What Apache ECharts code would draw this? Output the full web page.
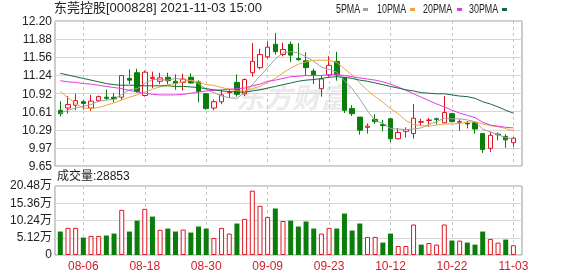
<!DOCTYPE html>
<html><head><meta charset="utf-8">
<script src="https://cdn.jsdelivr.net/npm/echarts@6/dist/echarts.min.js"></script>
<style>html,body{margin:0;padding:0;background:#fff}body{position:relative}#c{width:578px;height:276px}
#plabels{position:absolute;left:0;top:0;width:578px;height:276px;pointer-events:none;z-index:10}
#plabels div{position:absolute;height:14px;line-height:14px;font:12px 'Liberation Sans',Arial,sans-serif;color:#222;white-space:nowrap;text-align:right}</style>
</head><body><div id="c"></div><div id="plabels"></div>
<script>
const dates = ['08-03','08-04','08-05','08-06','08-09','08-10','08-11','08-12','08-13','08-16','08-17','08-18','08-19','08-20','08-23','08-24','08-25','08-26','08-27','08-30','08-31','09-01','09-02','09-03','09-06','09-07','09-08','09-09','09-10','09-13','09-14','09-15','09-16','09-17','09-22','09-23','09-24','09-27','09-28','09-29','09-30','10-08','10-11','10-12','10-13','10-14','10-15','10-18','10-19','10-20','10-21','10-22','10-25','10-26','10-27','10-28','10-29','11-01','11-02','11-03'];
const openP  = [10.63,10.67,10.72,10.78,10.67,10.80,10.86,10.86,10.86,11.19,11.29,10.89,11.19,11.14,11.21,11.14,11.12,11.21,11.13,10.92,10.67,10.78,10.94,11.12,10.92,11.29,11.38,11.57,11.79,11.61,11.79,11.54,11.50,11.32,11.01,11.25,11.49,11.20,10.66,10.51,10.33,10.47,10.38,10.48,10.13,10.26,10.22,10.42,10.45,10.48,10.41,10.57,10.42,10.40,10.41,10.22,9.96,10.21,10.17,10.06];
const closeP = [10.57,10.73,10.80,10.75,10.79,10.87,10.84,10.83,11.24,11.16,10.96,11.30,11.21,11.20,11.15,11.10,11.18,11.11,10.96,10.66,10.78,10.90,10.95,10.91,11.17,11.49,11.61,11.74,11.66,11.70,11.60,11.52,11.38,11.25,11.18,11.42,11.25,10.63,10.57,10.28,10.35,10.43,10.36,10.13,10.24,10.29,10.49,10.43,10.46,10.47,10.59,10.43,10.43,10.39,10.30,9.94,10.19,10.20,10.11,10.14];
const lowP   = [10.52,10.57,10.63,10.64,10.62,10.78,10.81,10.77,10.81,11.09,10.94,10.87,11.02,11.09,11.09,10.99,10.98,11.10,10.77,10.64,10.63,10.74,10.85,10.87,10.88,11.22,11.35,11.54,11.61,11.58,11.48,11.50,11.25,11.09,10.87,11.22,11.15,10.58,10.53,10.20,10.22,10.39,10.26,10.07,10.12,10.15,10.13,10.35,10.35,10.38,10.40,10.42,10.27,10.31,10.22,9.88,9.90,10.10,9.97,9.99];
const highP  = [10.79,10.88,10.92,10.81,10.90,10.89,10.99,10.93,11.25,11.35,11.36,11.33,11.31,11.29,11.29,11.26,11.27,11.28,11.16,10.93,10.82,10.99,11.01,11.26,11.19,11.81,11.71,11.84,11.99,11.82,11.84,11.81,11.65,11.36,11.25,11.58,11.66,11.21,10.72,10.51,10.40,10.56,10.46,10.49,10.32,10.33,10.74,10.48,10.50,10.50,10.88,10.58,10.47,10.44,10.43,10.23,10.25,10.24,10.21,10.16];
const ma5  = [10.58,10.63,10.67,10.70,10.73,10.79,10.81,10.82,10.91,10.99,11.01,11.10,11.17,11.17,11.16,11.19,11.17,11.15,11.10,11.00,10.94,10.88,10.85,10.84,10.94,11.08,11.23,11.38,11.53,11.64,11.66,11.64,11.57,11.49,11.39,11.35,11.30,11.15,11.01,10.83,10.62,10.45,10.40,10.31,10.30,10.29,10.30,10.32,10.38,10.43,10.49,10.48,10.48,10.46,10.43,10.30,10.25,10.20,10.15,10.12];
const ma10 = [10.96,10.85,10.75,10.67,10.66,10.68,10.72,10.76,10.81,10.86,10.90,10.95,11.00,11.04,11.08,11.10,11.13,11.16,11.13,11.08,11.07,11.03,11.00,10.97,10.97,11.01,11.05,11.12,11.19,11.29,11.37,11.44,11.48,11.51,11.51,11.51,11.47,11.36,11.25,11.11,10.98,10.87,10.77,10.66,10.57,10.45,10.38,10.36,10.35,10.37,10.39,10.39,10.40,10.42,10.43,10.39,10.36,10.34,10.31,10.27];
const ma20 = [11.15,11.13,11.12,11.10,11.09,11.07,11.05,11.03,11.01,10.98,10.95,10.93,10.91,10.90,10.90,10.90,10.91,10.93,10.95,10.97,10.98,10.99,11.00,11.01,11.02,11.06,11.09,11.14,11.16,11.19,11.22,11.23,11.24,11.24,11.24,11.26,11.26,11.24,11.22,11.20,11.18,11.16,11.13,11.09,11.04,10.98,10.92,10.86,10.80,10.74,10.69,10.63,10.58,10.54,10.50,10.42,10.37,10.35,10.33,10.32];
const ma30 = [11.28,11.25,11.22,11.19,11.16,11.13,11.10,11.08,11.07,11.07,11.07,11.06,11.06,11.06,11.06,11.05,11.05,11.04,11.03,11.01,10.99,10.97,10.96,10.95,10.95,10.97,10.99,11.02,11.05,11.08,11.11,11.14,11.16,11.17,11.19,11.21,11.22,11.21,11.19,11.16,11.14,11.11,11.08,11.05,11.02,10.99,10.97,10.94,10.93,10.92,10.92,10.90,10.88,10.87,10.84,10.78,10.74,10.69,10.63,10.58];
const volumes = [69600,80500,80500,51700,56700,56700,57700,63600,134000,69600,102000,137000,114000,74600,78500,69600,75500,66600,84500,78500,50700,80500,63600,93400,107000,191000,146000,113000,138000,101000,102000,84500,99400,78500,63600,80500,78500,123000,72600,93400,53700,53700,36800,63600,26800,26800,90500,30800,35800,30800,90500,42800,42800,36800,30800,69600,47700,36800,45700,28853];
const volUp = [0,1,1,0,1,1,0,0,1,0,0,1,0,1,0,0,1,0,0,0,1,1,1,0,1,1,1,1,0,1,0,0,0,0,1,1,0,0,0,0,1,1,0,0,1,1,1,0,1,1,1,0,1,0,0,0,1,1,0,1];
const priceTicks = ['9.65','9.97','10.29','10.61','10.92','11.24','11.56','11.88','12.20'];
const volTicks = ['0','5.12万','10.24万','15.36万','20.48万'];
const dateTicks = ['08-06','08-18','08-30','09-09','09-23','10-12','10-22','11-03'];
const maNames = ['5PMA','10PMA','20PMA','30PMA'];
const titleText = '东莞控股[000828] 2021-11-03 15:00';
const priceMin = 9.65, priceMax = 12.20, volMax = 204800;

const RED = '#e0141e', GREEN = '#0a7d0a';
const maColors = ['#a0a0a0', '#f0a536', '#e23be2', '#16693a'];
const LF = "'Liberation Sans', Arial, sans-serif";
const CF = "'Liberation Sans', 'Noto Sans CJK SC', sans-serif";
const legendX = [336, 377, 423, 469];
const legendWidths = [27, 33, 34, 33];

// layout
const MAIN_TOP = 21, MAIN_H = 145, VOL_TOP = 186, VOL_H = 69;
const FRAME_L = 55, FRAME_W = 467, DATA_L = 60.3, DATA_W = 453.1;
const nP = priceTicks.length - 1;
const nV = volTicks.length - 1, stepV = VOL_H / nV;

const chart = echarts.init(document.getElementById('c'), null, {renderer: 'canvas'});
const tickShow = (i, v) => dateTicks.indexOf(v !== undefined ? v : dates[i]) >= 0;
const vsplit = {show: true, interval: tickShow, lineStyle: {color: '#c4c4c4', type: [3, 3], width: 1}};

const legendGraphics = [];
maNames.forEach((n, k) => {
  legendGraphics.push({type: 'text', x: legendX[k], y: 10, scaleX: 0.74, z: 10,
    style: {text: n, font: "12px 'Liberation Sans', Arial", fill: '#222', textVerticalAlign: 'middle', verticalAlign: 'middle'}});
  legendGraphics.push({type: 'rect', z: 10, shape: {x: legendX[k] + legendWidths[k], y: 8, width: 5, height: 3}, style: {fill: maColors[k]}});
});

const labelAxis = (grid, ticks, font) => ({gridIndex: grid, type: 'value', min: 0, max: ticks.length, interval: 1,
  axisLine: {show: false}, axisTick: {show: false}, splitLine: {show: false},
  axisLabel: {formatter: v => (ticks[v] !== undefined ? ticks[v] : ''), color: '#222', fontSize: 12, margin: 3, fontFamily: font, showMaxLabel: true, showMinLabel: true}});
const frameAxis = (grid, n) => ({gridIndex: grid, type: 'value', min: 0, max: n, interval: 1,
  axisLine: {show: false}, axisTick: {show: false}, axisLabel: {show: false},
  splitLine: {lineStyle: {color: '#d6d6d6', width: 1}}});

const option = {
  animation: false,
  backgroundColor: '#fff',
  title: [
    {text: titleText, left: 54, top: 2, padding: 0, textStyle: {fontSize: 13, fontWeight: 'normal', color: '#222', fontFamily: CF}},
    {text: '成交量:' + volumes[volumes.length - 1], left: 57, top: 171, padding: 0, textStyle: {fontSize: 12, fontWeight: 'normal', color: '#222', fontFamily: CF}}
  ],
  graphic: [
    {type: 'text', left: 236, top: 83, z: 0, style: {text: '东方财富', font: "italic bold 28px 'Noto Sans CJK SC'", fill: '#ebebeb'}}
  ].concat(legendGraphics),
  grid: [
    {left: FRAME_L, top: MAIN_TOP, width: FRAME_W, height: MAIN_H, show: true, borderColor: '#9a9a9a', borderWidth: 1, backgroundColor: 'transparent'},
    {left: DATA_L, top: MAIN_TOP, width: DATA_W, height: MAIN_H},
    {left: FRAME_L, top: VOL_TOP, width: FRAME_W, height: VOL_H, show: true, borderColor: '#9a9a9a', borderWidth: 1, backgroundColor: 'transparent'},
    {left: DATA_L, top: VOL_TOP, width: DATA_W, height: VOL_H},
    {left: FRAME_L, top: VOL_TOP - stepV, width: FRAME_W, height: VOL_H + stepV}
  ],
  xAxis: [
    {gridIndex: 0, type: 'value', min: 0, max: 1, show: false},
    {gridIndex: 1, type: 'category', data: dates, boundaryGap: false, axisLine: {show: false}, axisTick: {show: false}, axisLabel: {show: false}, splitLine: vsplit},
    {gridIndex: 2, type: 'value', min: 0, max: 1, show: false},
    {gridIndex: 3, type: 'category', data: dates, boundaryGap: false, axisLine: {show: false}, axisTick: {show: false},
      axisLabel: {interval: tickShow, color: '#d0202a', fontSize: 12, margin: 6, fontFamily: LF}, splitLine: vsplit},
    {gridIndex: 4, type: 'value', min: 0, max: 1, show: false}
  ],
  yAxis: [
    frameAxis(0, nP),
    {gridIndex: 1, type: 'value', min: priceMin, max: priceMax, show: false},
    frameAxis(2, nV),
    {gridIndex: 3, type: 'value', min: 0, max: volMax, show: false},
    labelAxis(4, volTicks, CF)
  ],
  series: [
    {type: 'candlestick', xAxisIndex: 1, yAxisIndex: 1, barWidth: 5, clip: false, z: 3,
      data: dates.map((d, i) => [openP[i], closeP[i], lowP[i], highP[i]]),
      itemStyle: {color: '#ffffff', color0: GREEN, borderColor: RED, borderColor0: GREEN, borderWidth: 1}},
    ...[ma5, ma10, ma20, ma30].map((arr, k) => ({
      type: 'line', name: maNames[k], xAxisIndex: 1, yAxisIndex: 1, data: arr, color: maColors[k],
      symbol: 'none', showSymbol: false, z: 4, clip: false, lineStyle: {width: 1, color: maColors[k]}
    })),
    {type: 'bar', xAxisIndex: 3, yAxisIndex: 3, barWidth: 5, clip: false,
      data: volumes.map((v, i) => ({value: v, itemStyle: volUp[i] ? {color: '#ffffff', borderColor: RED, borderWidth: 1} : {color: GREEN}}))}
  ]
};
chart.setOption(option);

// price tick labels as real text, placed through the frame axis scale of the chart
const holder = document.getElementById('plabels');
priceTicks.forEach((t, i) => {
  const y = chart.convertToPixel({yAxisIndex: 0}, i);
  const d = document.createElement('div');
  d.textContent = t;
  d.style.right = (578 - (FRAME_L - 3)) + 'px';
  d.style.top = (y - 7) + 'px';
  holder.appendChild(d);
});
</script>
</body></html>
